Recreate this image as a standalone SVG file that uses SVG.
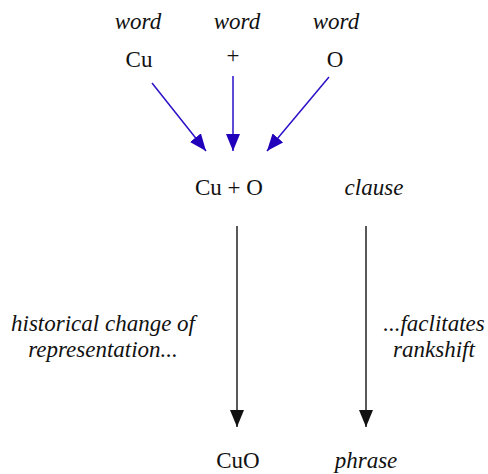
<svg xmlns="http://www.w3.org/2000/svg" width="488" height="474" viewBox="0 0 488 474">
<style>
text{font-family:"Liberation Serif","Times New Roman",serif;font-size:23px;fill:#111;text-anchor:middle}
.i{font-style:italic}
.b{stroke:#2a10c8;stroke-width:1.5;fill:none}
.k{stroke:#222;stroke-width:1.5;fill:none}
</style>
<defs>
<marker id="mb" markerWidth="18" markerHeight="14" refX="17" refY="7" orient="auto" markerUnits="userSpaceOnUse"><path d="M0,0 L17,7 L0,14 Z" fill="#2200bb"/></marker>
<marker id="mk" markerWidth="18" markerHeight="14" refX="17" refY="7" orient="auto" markerUnits="userSpaceOnUse"><path d="M0,0 L17,7 L0,14 Z" fill="#111"/></marker>
</defs>
<g id="n-cu"><text class="i" x="138" y="29">word</text><text x="139" y="67">Cu</text></g>
<g id="n-plus"><text class="i" x="237" y="29">word</text><text x="233" y="63">+</text></g>
<g id="n-o"><text class="i" x="336" y="29">word</text><text x="335" y="67">O</text></g>
<g id="n-cuo-sum"><text x="229" y="195">Cu + O</text></g>
<g id="n-clause"><text class="i" x="374" y="195">clause</text></g>
<g id="n-cuo"><text x="238" y="468">CuO</text></g>
<g id="n-phrase"><text class="i" x="366" y="468">phrase</text></g>
<g id="connectors">
<line class="b" x1="152" y1="83" x2="206" y2="151" marker-end="url(#mb)"/>
<line class="b" x1="233" y1="76" x2="233" y2="151" marker-end="url(#mb)"/>
<line class="b" x1="329" y1="77" x2="267" y2="151" marker-end="url(#mb)"/>
<line class="k" x1="237" y1="226" x2="237" y2="427" marker-end="url(#mk)"/>
<line class="k" x1="366" y1="226" x2="366" y2="427" marker-end="url(#mk)"/>
</g>
<g id="labels">
<text class="i" x="103" y="331">historical change of</text>
<text class="i" x="103" y="357">representation...</text>
<text class="i" x="434" y="331">...faclitates</text>
<text class="i" x="434" y="357">rankshift</text>
</g>
</svg>
